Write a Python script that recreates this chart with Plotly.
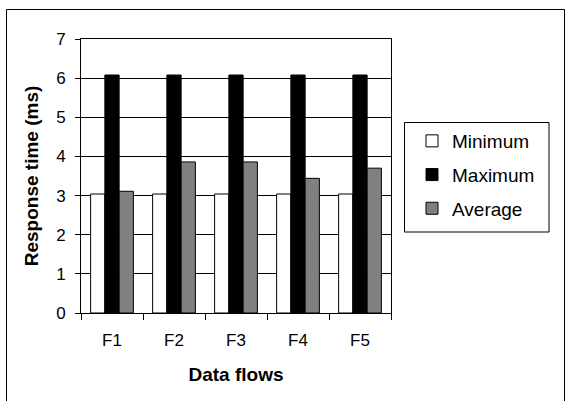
import plotly.graph_objects as go

# Response time per data flow (ms)
flows = ["F1", "F2", "F3", "F4", "F5"]
minimum = [3.04, 3.04, 3.04, 3.04, 3.04]
maximum = [6.08, 6.08, 6.08, 6.08, 6.08]
average = [3.11, 3.86, 3.86, 3.44, 3.70]

W, H = 568, 401
L, R, T, B = 81, 177, 39, 88
pw, ph = W - L - R, H - T - B


def px_x(x):
    return (x - L) / pw


def px_y(y):
    return (H - B - y) / ph


FONT = "Liberation Sans, Arial, sans-serif"

fig = go.Figure()
series = [
    ("Minimum", minimum, "#ffffff"),
    ("Maximum", maximum, "#000000"),
    ("Average", average, "#808080"),
]
for name, vals, col in series:
    fig.add_trace(go.Bar(
        x=flows, y=vals, name=name, legendgroup=name,
        marker=dict(color=col, line=dict(color="#000000", width=1)),
    ))

fig.update_layout(
    width=W, height=H,
    margin=dict(l=L, r=R, t=T, b=B),
    paper_bgcolor="#ffffff", plot_bgcolor="#ffffff",
    barmode="group", bargap=0.31, bargroupgap=0,
    font=dict(family=FONT, size=17, color="#000000"),
    showlegend=True,
    legend=dict(
        x=px_x(412), y=px_y(122), xanchor="left", yanchor="top",
        bgcolor="rgba(0,0,0,0)", borderwidth=0,
        font=dict(size=19, family=FONT),
        tracegroupgap=6,
    ),
    xaxis=dict(
        type="category", showline=True, linecolor="#000000", linewidth=1,
        mirror=True, ticks="outside", tickson="boundaries", ticklen=6,
        tickcolor="#000000", showgrid=False,
        tickfont=dict(size=17), ticklabelstandoff=12,
        title=dict(text="<b>Data flows</b>", font=dict(size=19), standoff=18),
    ),
    yaxis=dict(
        range=[0, 7], dtick=1, showline=True, linecolor="#000000", linewidth=1,
        mirror=True, ticks="outside", ticklen=5, tickcolor="#000000",
        showgrid=True, gridcolor="#000000", gridwidth=1, zeroline=False,
        tickfont=dict(size=17), ticklabelstandoff=6,
        title=dict(text="<b>Response time (ms)</b>", font=dict(size=19), standoff=12),
    ),
    shapes=[
        # outer chart frame (bottom edge runs off the canvas)
        dict(type="rect", xref="paper", yref="paper",
             x0=px_x(6.5), x1=px_x(564.5), y0=px_y(420), y1=px_y(9.5),
             line=dict(color="#000000", width=1), layer="below"),
        # legend box
        dict(type="rect", xref="paper", yref="paper",
             x0=px_x(404.5), x1=px_x(549), y0=px_y(232), y1=px_y(122.5),
             line=dict(color="#000000", width=1)),
    ],
)

fig.write_html("out.html")
